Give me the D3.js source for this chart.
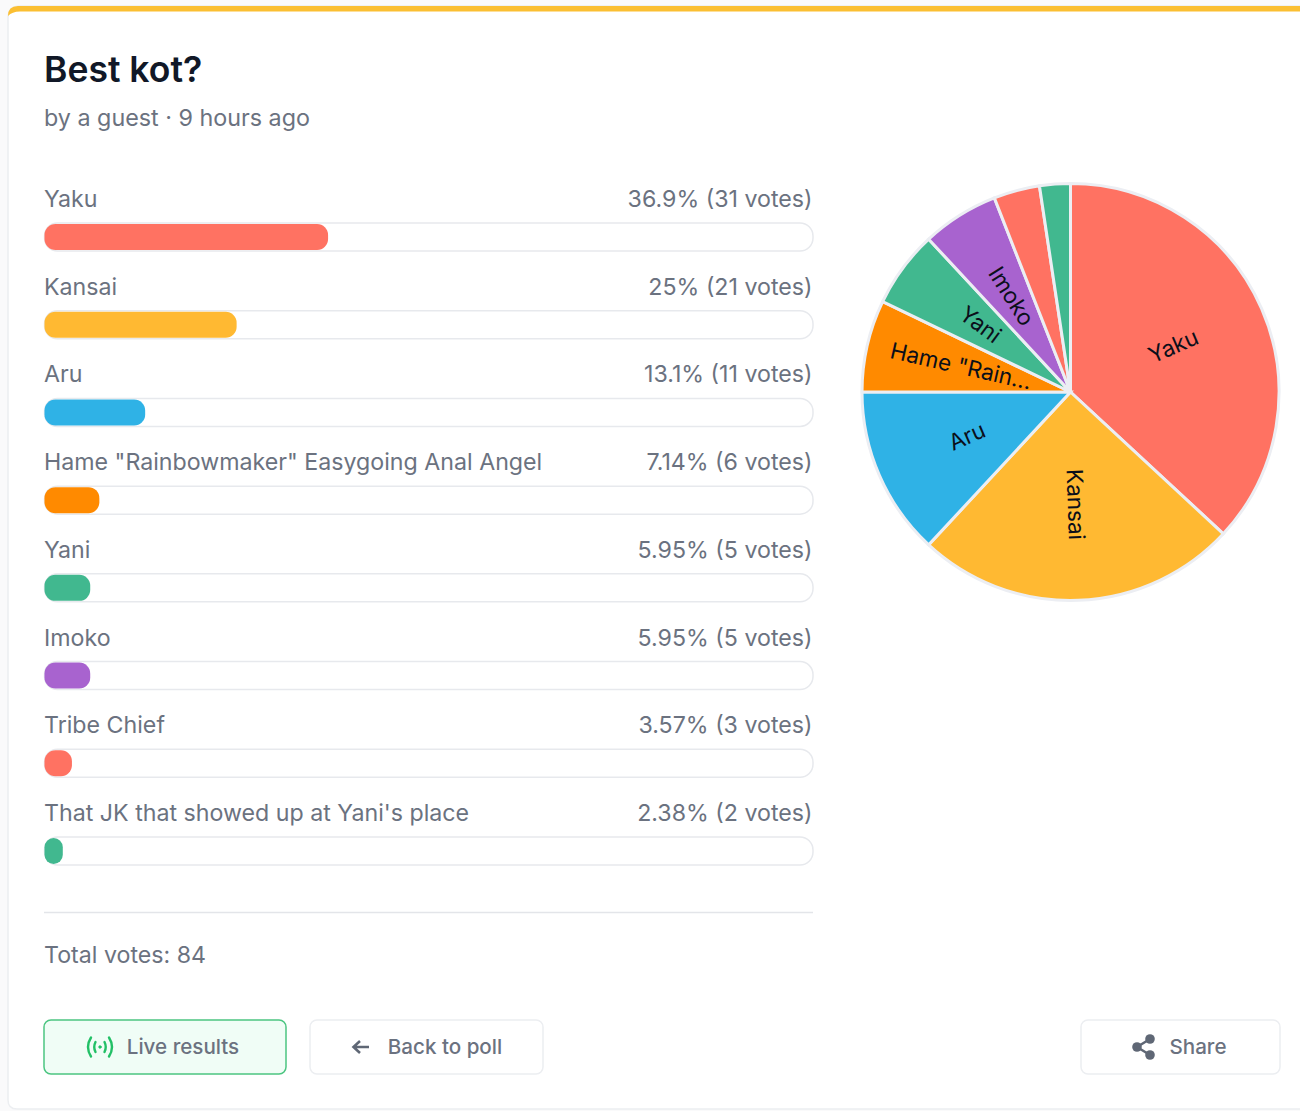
<!DOCTYPE html>
<html>
<head>
    <meta charset="utf-8">
    <script src="https://d3js.org/d3.v7.min.js"></script>
    <style>
        html, body { margin: 0; padding: 0; background: #fafafb; }
        svg { display: block; font-family: Inter, sans-serif; }
        .option { font-size: 23.2px; fill: #6b7280; }
        .btn { font-size: 20.6px; font-weight: 500; fill: #6b7280; text-anchor: middle; }
        .slice-label { font-size: 22.5px; fill: #0b0f1a; text-anchor: middle; dominant-baseline: central; }
    </style>
</head>
<body>
<svg id="chart" width="1300" height="1111"></svg>
<script>
    const options = ["Yaku", "Kansai", "Aru", "Hame \"Rainbowmaker\" Easygoing Anal Angel", "Yani", "Imoko", "Tribe Chief", "That JK that showed up at Yani's place"];
    const sliceLabels = ["Yaku", "Kansai", "Aru", "Hame \"Rain...", "Yani", "Imoko", "", ""];
    const percents = [36.9, 25, 13.1, 7.14, 5.95, 5.95, 3.57, 2.38];
    const votes = [31, 21, 11, 6, 5, 5, 3, 2];
    const colors = ["#ff7262", "#ffb932", "#2fb2e6", "#ff8a00", "#41b88f", "#a863cf", "#ff7262", "#41b88f"];

    const svg = d3.select("#chart");

    // Card with the yellow strip on top
    svg.append("path")
        .attr("d", "M1301,6 H20 Q8,6 8,18 V1100 Q8,1109 17,1109 H1301 Z")
        .attr("fill", "#fff")
        .attr("stroke", "#eceef1")
        .attr("stroke-width", 1.5);
    svg.append("path")
        .attr("d", "M8,16 Q8,6 18,6 H1301 V11.5 H20 Q12,11.5 8,16 Z")
        .attr("fill", "#fbbf32");

    // Header
    svg.append("text").attr("x", 44).attr("y", 82)
        .style("font-size", "35.5px").style("font-weight", 600).style("fill", "#111827")
        .text("Best kot?");
    svg.append("text").attr("x", 44).attr("y", 126)
        .style("font-size", "23.3px").style("fill", "#6b7280")
        .text("by a guest \u00b7 9 hours ago");

    // Bars
    const x = d3.scaleLinear().domain([0, 100]).range([44.5, 813]);
    const y = d3.scalePoint().domain(d3.range(options.length)).range([223, 837]);
    const rowH = 28;

    const rows = svg.selectAll(".row")
        .data(options)
        .enter().append("g")
        .attr("class", "row")
        .attr("transform", (d, i) => "translate(0," + y(i) + ")");

    rows.append("text")
        .attr("class", "option")
        .attr("x", 44)
        .attr("y", -16)
        .text(d => d);

    rows.append("text")
        .attr("class", "option")
        .attr("x", 812.5)
        .attr("y", -16)
        .attr("text-anchor", "end")
        .text((d, i) => percents[i] + "% (" + votes[i] + " vote" + (votes[i] === 1 ? "" : "s") + ")");

    rows.append("rect")
        .attr("x", x(0))
        .attr("width", x(100) - x(0))
        .attr("height", rowH)
        .attr("rx", 13)
        .attr("fill", "#fff")
        .attr("stroke", "#e7e9ed")
        .attr("stroke-width", 1.5);

    rows.append("rect")
        .attr("x", x(0))
        .attr("y", 1)
        .attr("width", (d, i) => x(percents[i]) - x(0))
        .attr("height", rowH - 2)
        .attr("rx", (d, i) => Math.min(11, (x(percents[i]) - x(0)) / 2))
        .attr("fill", (d, i) => colors[i]);

    // Pie
    const radius = 208.5;
    const pieG = svg.append("g").attr("transform", "translate(1070.5,392)");
    const pie = d3.pie().sort(null);
    const arc = d3.arc().innerRadius(0).outerRadius(radius);
    const arcs = pie(votes);

    pieG.selectAll("path")
        .data(arcs)
        .enter().append("path")
        .attr("d", arc)
        .attr("fill", (d, i) => colors[i])
        .attr("stroke", "#eceef3")
        .attr("stroke-width", 3);

    // Labels are clipped to their own slice
    const defs = svg.append("defs");
    arcs.forEach((d, i) => {
        defs.append("clipPath").attr("id", "slice" + i).append("path").attr("d", arc(d));
    });

    const labelR = radius * 0.54;
    pieG.selectAll(".label-wrap")
        .data(arcs)
        .enter().append("g")
        .attr("class", "label-wrap")
        .attr("clip-path", (d, i) => "url(#slice" + i + ")")
        .append("text")
        .attr("class", "slice-label")
        .attr("dy", -1.5)
        .attr("transform", d => {
            const mid = (d.startAngle + d.endAngle) / 2;
            const deg = mid * 180 / Math.PI;
            const rot = deg > 180 ? deg + 90 : deg - 90;
            return "translate(" + Math.sin(mid) * labelR + "," + (-Math.cos(mid) * labelR) + ") rotate(" + rot + ")";
        })
        .text((d, i) => sliceLabels[i]);

    // Footer
    svg.append("line")
        .attr("x1", 44).attr("x2", 813).attr("y1", 912.5).attr("y2", 912.5)
        .attr("stroke", "#e3e5e9").attr("stroke-width", 1.5);
    svg.append("text").attr("class", "option").attr("x", 44).attr("y", 963)
        .text("Total votes: " + d3.sum(votes));

    // Buttons
    const buttons = [
        {x: 44, w: 242, fill: "#f0fdf6", stroke: "#4cc581", label: "Live results", tx: 183},
        {x: 310, w: 233, fill: "#fff", stroke: "#eceef1", label: "Back to poll", tx: 445},
        {x: 1081, w: 199, fill: "#fff", stroke: "#eceef1", label: "Share", tx: 1198}
    ];
    const btn = svg.selectAll(".button")
        .data(buttons)
        .enter().append("g")
        .attr("class", "button");
    btn.append("rect")
        .attr("x", d => d.x).attr("y", 1020)
        .attr("width", d => d.w).attr("height", 54)
        .attr("rx", 7)
        .attr("fill", d => d.fill)
        .attr("stroke", d => d.stroke)
        .attr("stroke-width", 1.5);
    btn.append("text")
        .attr("class", "btn")
        .attr("x", d => d.tx).attr("y", 1054)
        .text(d => d.label);

    // Live icon
    const live = svg.append("g").attr("transform", "translate(100,1047)")
        .attr("fill", "none").attr("stroke", "#22c066").attr("stroke-width", 2.4).attr("stroke-linecap", "round");
    live.append("path").attr("d", "M-9,-9.5 Q-15,0 -9,9.5 M9,-9.5 Q15,0 9,9.5 M-4.5,-5 Q-7,0 -4.5,5 M4.5,-5 Q7,0 4.5,5");
    live.append("circle").attr("r", 1.2).attr("fill", "#22c066").attr("stroke-width", 1);

    // Back arrow
    svg.append("path")
        .attr("d", "M369,1047 H354 M360,1041 L353.5,1047 L360,1053")
        .attr("fill", "none").attr("stroke", "#5f6775").attr("stroke-width", 2.6);

    // Share icon
    const share = svg.append("g").attr("transform", "translate(1143,1047)");
    share.append("path")
        .attr("d", "M-6,0 L7,-8 M-6,0 L7,8")
        .attr("stroke", "#5f6775").attr("stroke-width", 2.6);
    share.selectAll("circle")
        .data([[-6, 0], [7, -8], [7, 8]])
        .enter().append("circle")
        .attr("cx", d => d[0]).attr("cy", d => d[1]).attr("r", 4.8)
        .attr("fill", "#5f6775");
</script>
</body>
</html>
